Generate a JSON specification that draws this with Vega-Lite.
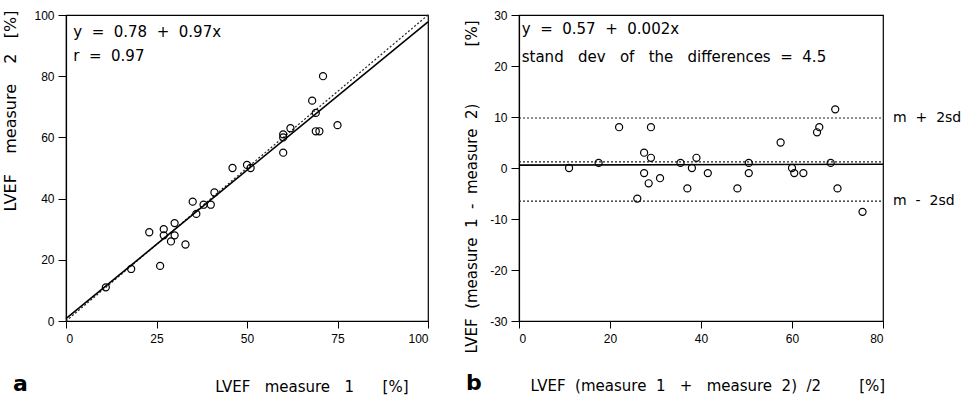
{
  "$schema": "https://vega.github.io/schema/vega-lite/v6.json",
  "autosize": {"type": "none"},
  "padding": {"left": 66, "top": 15, "right": 899, "bottom": 380},
  "background": "white",
  "spacing": 91,
  "bounds": "flush",
  "config": {
    "view": {"stroke": "black", "strokeWidth": 1.2},
    "font": "DejaVu Sans",
    "axis": {
      "grid": false, "domainColor": "black", "domainWidth": 1.2, "tickColor": "black", "tickWidth": 1,
      "labelColor": "black", "titleColor": "black",
      "labelFont": "Liberation Sans Narrow, Liberation Sans, Arial", "labelFontSize": 12,
      "titleFont": "DejaVu Sans", "titleFontSize": 15, "titleFontWeight": "normal",
      "tickSize": 8, "labelPadding": 4,
      "labelExpr": "toString(datum.value)"
    },
    "title": {"color": "black"}
  },
  "datasets": {
    "left": [
      {"x": 11, "y": 11}, {"x": 18, "y": 17}, {"x": 23, "y": 29}, {"x": 26, "y": 18},
      {"x": 27, "y": 30}, {"x": 27, "y": 28}, {"x": 29, "y": 26}, {"x": 30, "y": 28},
      {"x": 30, "y": 32}, {"x": 33, "y": 25}, {"x": 35, "y": 39}, {"x": 36, "y": 35},
      {"x": 38, "y": 38}, {"x": 40, "y": 38}, {"x": 41, "y": 42}, {"x": 46, "y": 50},
      {"x": 50, "y": 51}, {"x": 51, "y": 50}, {"x": 60, "y": 55}, {"x": 60, "y": 60},
      {"x": 60, "y": 61}, {"x": 62, "y": 63}, {"x": 68, "y": 72}, {"x": 69, "y": 68},
      {"x": 69, "y": 62}, {"x": 70, "y": 62}, {"x": 71, "y": 80}, {"x": 75, "y": 64}
    ],
    "leftLines": [
      {"x": 0, "y": 0.78, "kind": "fit"}, {"x": 100, "y": 97.78, "kind": "fit"},
      {"x": 0, "y": 0, "kind": "identity"}, {"x": 100, "y": 100, "kind": "identity"}
    ],
    "leftNotes": [
      {"x": 2, "y": 92.8, "label": "y\u00a0\u00a0=\u00a0\u00a00.78\u00a0\u00a0+\u00a0\u00a00.97x"},
      {"x": 2, "y": 85, "label": "r\u00a0\u00a0=\u00a0\u00a00.97"}
    ],
    "right": [
      {"x": 11, "y": 0}, {"x": 17.5, "y": 1}, {"x": 22, "y": 8}, {"x": 26, "y": -6},
      {"x": 27.5, "y": 3}, {"x": 27.5, "y": -1}, {"x": 28.5, "y": -3}, {"x": 29, "y": 2},
      {"x": 29, "y": 8}, {"x": 31, "y": -2}, {"x": 35.5, "y": 1}, {"x": 37, "y": -4},
      {"x": 38, "y": 0}, {"x": 39, "y": 2}, {"x": 41.5, "y": -1}, {"x": 48, "y": -4},
      {"x": 50.5, "y": 1}, {"x": 50.5, "y": -1}, {"x": 57.5, "y": 5}, {"x": 60, "y": 0},
      {"x": 60.5, "y": -1}, {"x": 62.5, "y": -1}, {"x": 65.5, "y": 7}, {"x": 66, "y": 8},
      {"x": 68.5, "y": 1}, {"x": 69.5, "y": 11.5}, {"x": 70, "y": -4}, {"x": 75.5, "y": -8.6}
    ],
    "rightFit": [
      {"x": 0, "y": 0.57}, {"x": 80, "y": 0.73}
    ],
    "rightRefs": [
      {"x": 0, "y": 9.8, "line": "upper"}, {"x": 80, "y": 9.8, "line": "upper"},
      {"x": 0, "y": 1.2, "line": "mean"}, {"x": 80, "y": 1.2, "line": "mean"},
      {"x": 0, "y": -6.5, "line": "lower"}, {"x": 80, "y": -6.5, "line": "lower"}
    ],
    "rightLabels": [
      {"x": 80, "y": 9.8, "label": "m\u00a0\u00a0+\u00a0\u00a02sd"},
      {"x": 80, "y": -6.5, "label": "m\u00a0\u00a0-\u00a0\u00a02sd"}
    ],
    "rightNotes": [
      {"x": 0.6, "y": 26.3, "label": "y\u00a0\u00a0=\u00a0\u00a00.57\u00a0\u00a0+\u00a0\u00a00.002x"},
      {"x": 0.6, "y": 20.8, "label": "stand\u00a0\u00a0\u00a0dev\u00a0\u00a0\u00a0of\u00a0\u00a0\u00a0the\u00a0\u00a0\u00a0differences\u00a0\u00a0=\u00a0\u00a04.5"}
    ]
  },
  "hconcat": [
    {
      "width": 362,
      "height": 306,
      "title": {"text": "a", "orient": "bottom", "anchor": "start", "frame": "group", "dx": -53, "offset": -3, "fontSize": 22, "fontWeight": "bold", "font": "DejaVu Sans", "baseline": "alphabetic"},
      "encoding": {
        "x": {"field": "x", "type": "quantitative", "scale": {"domain": [0, 100], "nice": false},
          "axis": {"values": [0, 25, 50, 75, 100], "title": "LVEF\u00a0\u00a0\u00a0measure\u00a0\u00a0\u00a01\u00a0\u00a0\u00a0\u00a0\u00a0\u00a0[%]", "titleX": 342, "titleY": 70, "titleAlign": "right", "titleAnchor": "end", "titleBaseline": "alphabetic", "tickSize": 7, "labelPadding": 5}},
        "y": {"field": "y", "type": "quantitative", "scale": {"domain": [0, 100], "nice": false},
          "axis": {"values": [0, 20, 40, 60, 80, 100], "title": "LVEF\u00a0\u00a0\u00a0\u00a0measure\u00a0\u00a0\u00a0\u00a02\u00a0\u00a0\u00a0[%]", "titleX": -56, "titleY": -5, "titleAlign": "right", "titleAnchor": "end", "titleBaseline": "middle", "titleFontSize": 16}}
      },
      "layer": [
        {"data": {"name": "leftLines"}, "transform": [{"filter": "datum.kind === 'identity'"}],
          "mark": {"type": "line", "color": "#222", "strokeWidth": 1.2, "strokeDash": [2, 2]}},
        {"data": {"name": "leftLines"}, "transform": [{"filter": "datum.kind === 'fit'"}],
          "mark": {"type": "line", "color": "black", "strokeWidth": 1.6}},
        {"data": {"name": "left"},
          "mark": {"type": "point", "shape": "circle", "size": 50, "filled": false, "color": "black", "strokeWidth": 1.2, "opacity": 1}},
        {"data": {"name": "leftNotes"},
          "mark": {"type": "text", "align": "left", "baseline": "alphabetic", "fontSize": 15, "font": "DejaVu Sans", "color": "black"},
          "encoding": {"text": {"field": "label"}}}
      ]
    },
    {
      "width": 364,
      "height": 306,
      "title": {"text": "b", "orient": "bottom", "anchor": "start", "frame": "group", "dx": -53, "offset": -3, "fontSize": 22, "fontWeight": "bold", "font": "DejaVu Sans", "baseline": "alphabetic"},
      "encoding": {
        "x": {"field": "x", "type": "quantitative", "scale": {"domain": [0, 80], "nice": false},
          "axis": {"values": [0, 20, 40, 60, 80], "title": "LVEF\u00a0\u00a0(measure\u00a0\u00a01\u00a0\u00a0\u00a0+\u00a0\u00a0\u00a0measure\u00a0\u00a02)\u00a0\u00a0/2\u00a0\u00a0\u00a0\u00a0\u00a0\u00a0\u00a0\u00a0[%]", "titleX": 11, "titleY": 69, "titleAlign": "left", "titleAnchor": "start", "titleBaseline": "alphabetic", "tickSize": 7, "labelPadding": 5}},
        "y": {"field": "y", "type": "quantitative", "scale": {"domain": [-30, 30], "nice": false},
          "axis": {"values": [-30, -20, -10, 0, 10, 20, 30], "title": "LVEF\u00a0\u00a0(measure\u00a0\u00a01\u00a0\u00a0-\u00a0\u00a0measure\u00a0\u00a02)\u00a0\u00a0\u00a0\u00a0\u00a0\u00a0\u00a0\u00a0\u00a0\u00a0\u00a0\u00a0[%]", "titleX": -48, "titleY": 5, "titleAlign": "right", "titleAnchor": "end", "titleBaseline": "middle"}}
      },
      "layer": [
        {"data": {"name": "rightRefs"},
          "mark": {"type": "line", "color": "#222", "strokeWidth": 1.2, "strokeDash": [2, 2]},
          "encoding": {"detail": {"field": "line"}}},
        {"data": {"name": "rightFit"},
          "mark": {"type": "line", "color": "black", "strokeWidth": 1.6}},
        {"data": {"name": "right"},
          "mark": {"type": "point", "shape": "circle", "size": 50, "filled": false, "color": "black", "strokeWidth": 1.2, "opacity": 1}},
        {"data": {"name": "rightNotes"},
          "mark": {"type": "text", "align": "left", "baseline": "alphabetic", "fontSize": 15, "font": "DejaVu Sans", "color": "black"},
          "encoding": {"text": {"field": "label"}}},
        {"data": {"name": "rightLabels"},
          "mark": {"type": "text", "align": "left", "baseline": "middle", "dx": 10, "fontSize": 14, "font": "DejaVu Sans", "color": "black"},
          "encoding": {"text": {"field": "label"}}}
      ]
    }
  ]
}
